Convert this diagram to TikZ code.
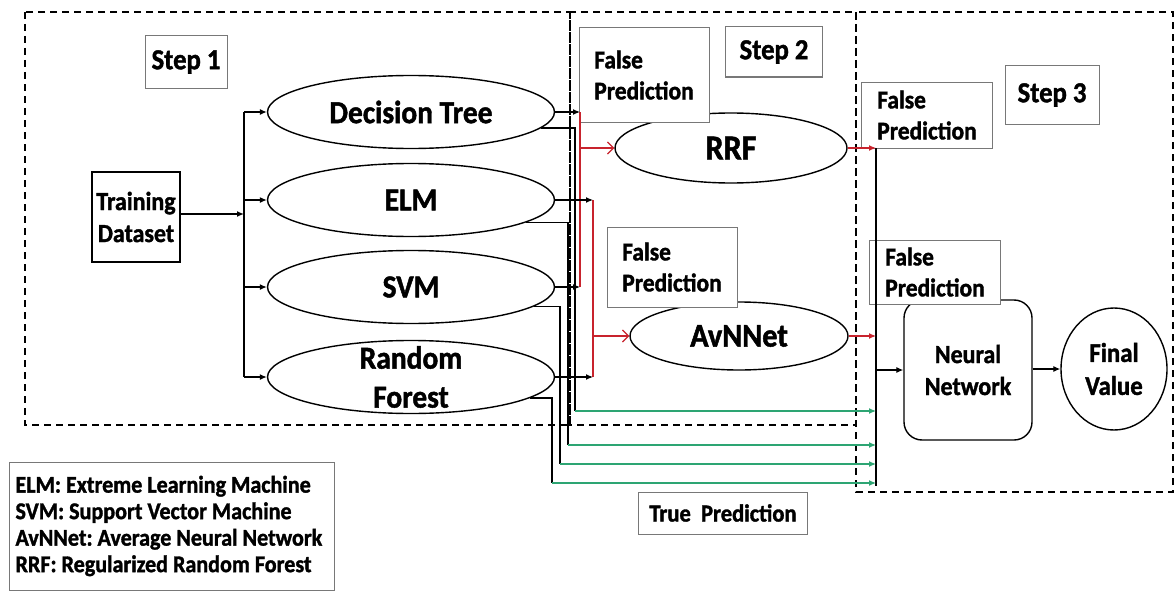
\documentclass[tikz,border=0pt]{standalone}
\usepackage{fontspec}
\setmainfont{Carlito}[BoldFeatures={FakeBold=1.4,FakeStretch=0.92}]
\usetikzlibrary{shapes,arrows.meta,positioning,calc}

\definecolor{falsered}{RGB}{200,35,45}
\definecolor{truegreen}{RGB}{45,165,115}
\definecolor{tagline}{RGB}{120,120,120}

\tikzset{
  model/.style={draw, ellipse, line width=1.4pt, minimum width=287pt, minimum height=73pt,
    inner sep=0pt, font=\fontsize{32}{38}\selectfont\bfseries},
  modeltext/.style={align=center, font=\fontsize{32}{39}\selectfont\bfseries},
  tag/.style={draw=tagline, line width=1pt, fill=white, inner sep=0pt, align=left,
    font=\fontsize{25.5}{31}\selectfont\bfseries},
  steptag/.style={tag, font=\fontsize{29}{33}\selectfont\bfseries},
  stage/.style={line width=1.3pt, dash pattern=on 7pt off 5pt},
  wire/.style={line width=1.2pt, -{Latex[length=7pt,width=6pt]}},
  falseline/.style={line width=1.2pt, draw=falsered},
  falsearrow/.style={falseline, -{Straight Barb[length=6pt,width=12pt]}},
  falsewire/.style={falseline, -{Latex[length=7pt,width=6pt]}},
  truewire/.style={line width=1.2pt, draw=truegreen, -{Latex[length=7pt,width=6pt]}}
}

\begin{document}
\frenchspacing
\begin{tikzpicture}[x=1pt, y=-1pt]
  \useasboundingbox (0,0) rectangle (1175,594);
  \fill[white] (0,0) rectangle (1175,594);

  % Stage frames
  \draw[stage] (25,12) rectangle (570,425);
  \draw[stage] (570,12) rectangle (856,425);
  \draw[stage] (856,12) rectangle (1173,492);

  % Step 1: base learners
  \node[draw, line width=1.4pt, minimum width=88pt, minimum height=90pt, inner sep=0pt,
    align=center, font=\fontsize{26}{32}\selectfont\bfseries] (train) at (136,217) {Training\\Dataset};
  \node[model] (dt) at (411,112) {Decision Tree};
  \node[model] (elm) at (411,200) {ELM};
  \node[model] (svm) at (411,287) {SVM};
  \node[model, label={[modeltext]center:Random\\Forest}] (rf) at (411,377) {};

  % Step 2: second chance models
  \node[model, minimum width=232pt, minimum height=70pt, font=\fontsize{35}{40}\selectfont\bfseries] (rrf) at (731,148) {RRF};
  \node[model, minimum width=218pt, minimum height=68pt, font=\fontsize{33}{38}\selectfont\bfseries] (avn) at (739,336) {AvNNet};

  % Step 3
  \node[draw, rounded corners=18pt, line width=1.4pt, minimum width=128pt, minimum height=140pt,
    align=center, font=\fontsize{26}{32}\selectfont\bfseries] (nn) at (968,370) {Neural\\Network};
  \node[draw, ellipse, line width=1.4pt, minimum width=106pt, minimum height=122pt, inner sep=0pt,
    align=center, font=\fontsize{27}{33}\selectfont\bfseries] (final) at (1114,369) {Final\\Value};

  % Labels
  \node[steptag, minimum width=82pt, minimum height=52pt] (step1) at (186,62) {Step 1};
  \node[steptag, minimum width=97pt, minimum height=50pt] (step2) at (774,52) {Step 2};
  \node[steptag, minimum width=94pt, minimum height=59pt] (step3) at (1052,95) {Step 3};
  \node[tag, minimum width=130pt, minimum height=95pt] (fp1) at (644,75) {False\\Prediction};
  \node[tag, minimum width=130pt, minimum height=80pt] (fp2) at (672,267) {False\\Prediction};
  \node[tag, minimum width=131pt, minimum height=66pt] (fp3) at (927,115) {False\\Prediction};
  \node[tag, minimum width=131pt, minimum height=64pt] (fp4) at (935,272) {False\\Prediction};
  \node[tag, minimum width=169pt, minimum height=42pt, font=\fontsize{24.5}{29}\selectfont\bfseries] (tp) at (723,513) {True~ Prediction};
  \node[draw=tagline, line width=1pt, minimum width=325pt, minimum height=128pt, inner sep=0pt,
    text width=313pt, align=flush left, font=\fontsize{24}{26.5}\selectfont\bfseries] (legend) at (172,526)
    {ELM: Extreme Learning Machine\\SVM: Support Vector Machine\\AvNNet: Average Neural Network\\RRF: Regularized Random Forest};

  % Training data to every base learner
  \coordinate (split) at (244,214);
  \draw[wire, line width=2.6pt] (train.east |- split) -- (split);
  \draw[line width=1.3pt] (split |- dt) -- (split |- rf);
  \foreach \m in {dt,elm,svm,rf}
    \draw[wire] (split |- \m) -- (\m.west);

  % False predictions go to step 2
  \coordinate (redA) at (580,0);
  \coordinate (redB) at (593,0);
  \draw[falseline] (dt.east -| redA) -- (svm.east -| redA);
  \draw[falseline] (elm.east -| redB) -- (rf.east -| redB);
  \draw[falsearrow] (rrf.west -| redA) -- (rrf.west);
  \draw[falsearrow] (avn.west -| redB) -- (avn.west);
  \draw[wire] (dt.east) -- (dt.east -| redA);
  \draw[wire] (svm.east) -- (svm.east -| redA);
  \draw[wire] (elm.east) -- (elm.east -| redB);
  \draw[wire] (rf.east) -- (rf.east -| redB);

  % Collector in front of the neural network
  \coordinate (busT) at (876,148);
  \coordinate (busB) at (876,486);
  \draw[line width=1.3pt] (busT) -- (busB);
  \draw[falsewire] (rrf.east) -- (rrf.east -| busT);
  \draw[falsewire] (avn.east) -- (avn.east -| busT);
  \draw[wire] (nn.west -| busT) -- (nn.west);
  \draw[wire] (nn.east |- final.west) -- (final.west);

  % True predictions skip ahead
  \foreach \m/\a/\x/\y in {dt/-7/575/411, elm/-11/568/445, svm/-9.5/560/464, rf/-10/552/483} {
    \draw[line width=1.2pt] (\m.\a) -| (\x,\y) coordinate (t\m);
    \draw[truewire] (t\m) -- (t\m -| busT);
  }
\end{tikzpicture}
\end{document}
